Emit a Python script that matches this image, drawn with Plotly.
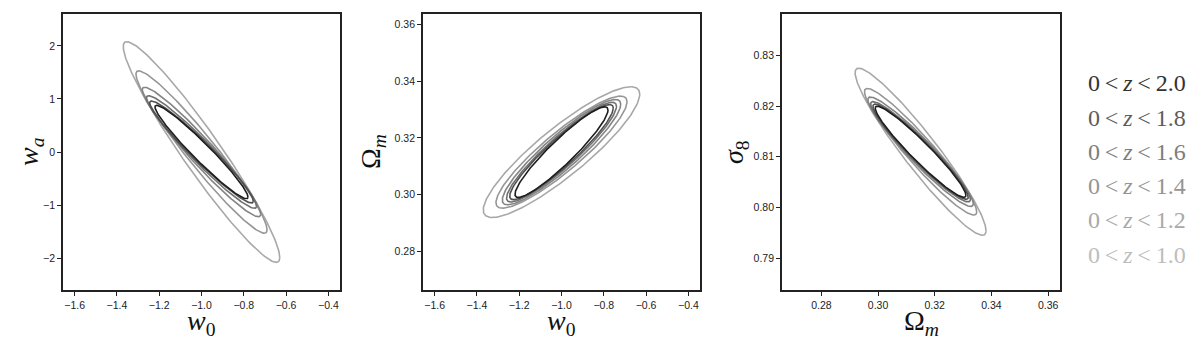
import numpy as np
import plotly.graph_objects as go
from plotly.subplots import make_subplots

# redshift bins, widest contour (z<1.0) first, tightest (z<2.0) last
Z_MAX = [1.0, 1.2, 1.4, 1.6, 1.8, 2.0]
LINE_COLORS = ["#a8a8a8", "#969696", "#858585", "#707070", "#505050", "#1e1e1e"]
LABEL_COLORS = ["#bdbdbd", "#a9a9a9", "#959595", "#7d7d7d", "#5c5c5c", "#333333"]

# fiducial values
W0_FID = -1.0
WA_FID = 0.0
OM_FID = 0.315
S8_FID = 0.811

# half-extent of each contour along every parameter
W0_ERR = [0.37, 0.31, 0.28, 0.26, 0.245, 0.22]
WA_ERR = [2.08, 1.53, 1.22, 1.06, 0.96, 0.88]
OM_ERR = [0.0231, 0.0198, 0.0186, 0.0176, 0.0168, 0.0160]
S8_ERR = [0.0165, 0.0125, 0.0108, 0.0099, 0.0094, 0.0090]

# correlation coefficients of each pair
RHO_W0_WA = [-0.955, -0.958, -0.960, -0.962, -0.964, -0.965]
RHO_W0_OM = [0.885, 0.90, 0.91, 0.92, 0.925, 0.93]
RHO_OM_S8 = [-0.945, -0.948, -0.950, -0.952, -0.955, -0.956]


def ellipse(cx: float, cy: float, hx: float, hy: float, rho: float, n: int = 240):
    """Contour with half-extents hx, hy and correlation rho."""
    t = np.linspace(0, 2 * np.pi, n)
    x = cx + hx * np.cos(t)
    y = cy + hy * (rho * np.cos(t) + np.sqrt(1 - rho**2) * np.sin(t))
    return x, y


def add_panel(fig: go.Figure, col: int, cx, cy, ex, ey, rho) -> None:
    for i in range(len(Z_MAX)):
        x, y = ellipse(cx, cy, ex[i], ey[i], rho[i])
        fig.add_trace(
            go.Scatter(x=x, y=y, mode="lines", line=dict(color=LINE_COLORS[i], width=1.6), showlegend=False),
            row=1,
            col=col,
        )


fig = make_subplots(rows=1, cols=3)
add_panel(fig, 1, W0_FID, WA_FID, W0_ERR, WA_ERR, RHO_W0_WA)
add_panel(fig, 2, W0_FID, OM_FID, W0_ERR, OM_ERR, RHO_W0_OM)
add_panel(fig, 3, OM_FID, S8_FID, OM_ERR, S8_ERR, RHO_OM_S8)

W, H = 1200, 342
y_dom = [1 - 282 / H, 1 - 6 / H]
x_doms = [[55 / W, 332 / W], [415 / W, 692 / W], [774 / W, 1052 / W]]

axis_style = dict(
    showgrid=False,
    zeroline=False,
    showline=True,
    mirror=True,
    linecolor="#222222",
    linewidth=1.8,
    ticks="outside",
    ticklen=4,
    tickwidth=1,
    tickcolor="#222222",
    tickfont=dict(family="Liberation Sans, Arial", size=10.5, color="#222222"),
)

fig.update_xaxes(**axis_style)
fig.update_yaxes(**axis_style)

fig.update_layout(
    xaxis=dict(domain=x_doms[0], range=[-1.655, -0.345], dtick=0.2, tickformat=".1f"),
    yaxis=dict(domain=y_dom, range=[-2.6, 2.6], tickvals=[-2, -1, 0, 1, 2]),
    xaxis2=dict(domain=x_doms[1], range=[-1.655, -0.345], dtick=0.2, tickformat=".1f"),
    yaxis2=dict(domain=y_dom, range=[0.2663, 0.3638], dtick=0.02, tickformat=".2f"),
    xaxis3=dict(domain=x_doms[2], range=[0.2661, 0.3642], dtick=0.02, tickformat=".2f"),
    yaxis3=dict(domain=y_dom, range=[0.7837, 0.8382], dtick=0.01, tickformat=".2f"),
    width=W,
    height=H,
    margin=dict(l=0, r=0, t=0, b=0),
    plot_bgcolor="white",
    paper_bgcolor="white",
)

serif = "Liberation Serif, Times New Roman, serif"
label_font = dict(family=serif, size=28, color="#111111")

x_titles = ["<i>w</i><sub>0</sub>", "<i>w</i><sub>0</sub>", "Ω<sub><i>m</i></sub>"]
for dom, txt in zip(x_doms, x_titles):
    fig.add_annotation(
        x=(dom[0] + dom[1]) / 2, y=1 - 314 / H, xref="paper", yref="paper",
        text=txt, showarrow=False, font=label_font, xanchor="center", yanchor="middle",
    )

y_titles = [("<i>w</i><sub><i>a</i></sub>", 22), ("Ω<sub><i>m</i></sub>", 364), ("<i>σ</i><sub>8</sub>", 727)]
for txt, px in y_titles:
    fig.add_annotation(
        x=px / W, y=1 - 144 / H, xref="paper", yref="paper", text=txt, showarrow=False,
        font=label_font, textangle=-90, xanchor="center", yanchor="middle",
    )

# redshift-bin labels, tightest bin on top
label_rows = [75, 110, 144, 178, 212, 247]
for row_y, i in zip(label_rows, reversed(range(len(Z_MAX)))):
    fig.add_annotation(
        x=1078 / W, y=1 - row_y / H, xref="paper", yref="paper",
        text=f"0\u2009&lt;\u2009<i>z</i>\u2009&lt;\u2009{Z_MAX[i]:.1f}", showarrow=False,
        font=dict(family=serif, size=24, color=LABEL_COLORS[i]), xanchor="left", yanchor="middle",
    )

fig.write_html("out.html")
